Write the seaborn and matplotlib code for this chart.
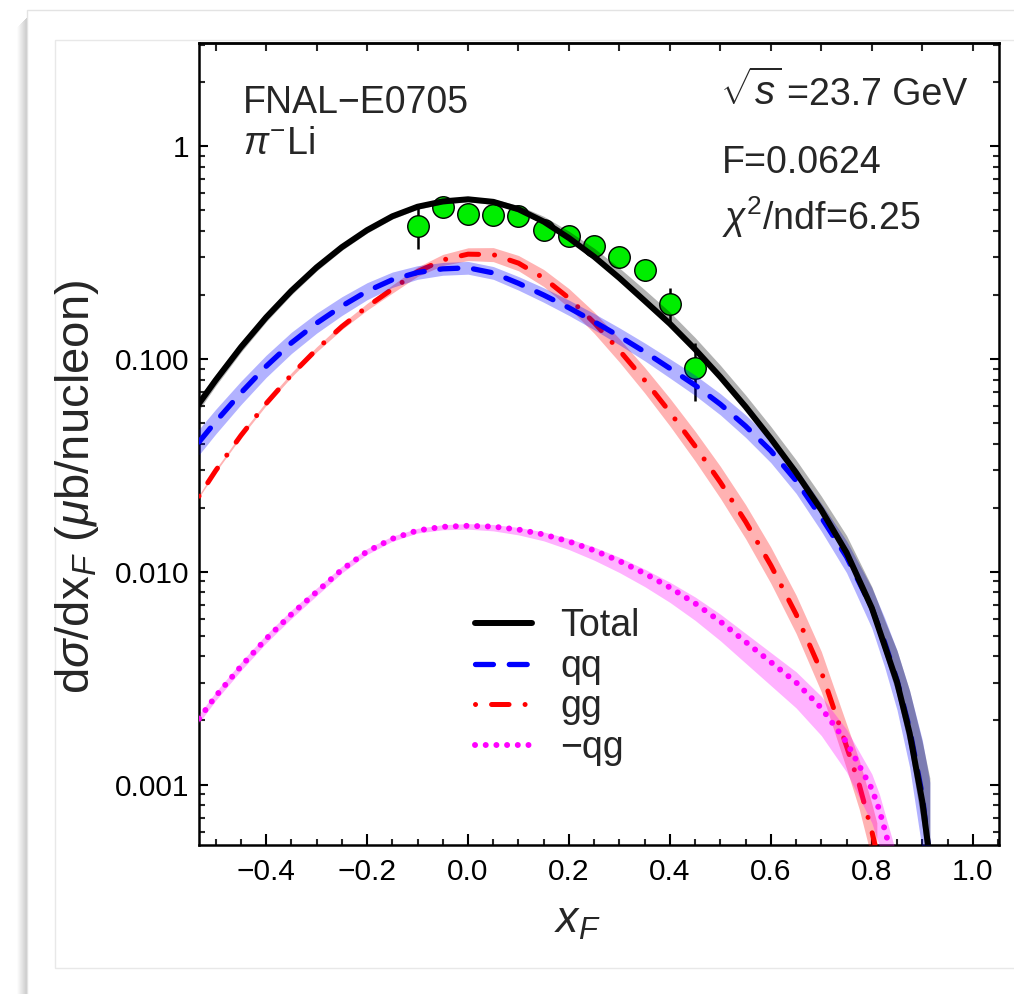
import numpy as np
import matplotlib
matplotlib.use("Agg")
import matplotlib.pyplot as plt
import seaborn as sns
from matplotlib.patches import Rectangle
from matplotlib.ticker import FixedLocator, FixedFormatter, MultipleLocator, LogLocator, NullFormatter

sns.set_theme(style="white")
plt.rcParams["font.family"] = ["Liberation Sans", "DejaVu Sans"]
plt.rcParams["mathtext.fontset"] = "custom"
plt.rcParams["mathtext.rm"] = "Liberation Sans"
plt.rcParams["mathtext.it"] = "Liberation Sans:italic"
plt.rcParams["mathtext.bf"] = "Liberation Sans:bold"
plt.rcParams["mathtext.sf"] = "Liberation Sans"

# ---- measured cross sections (FNAL E705, pi- Li) ----
xf_data = [-0.10, -0.05, 0.00, 0.05, 0.10, 0.15, 0.20, 0.25, 0.30, 0.35, 0.40, 0.45]
sigma_data = [0.422, 0.519, 0.477, 0.475, 0.469, 0.403, 0.377, 0.339, 0.300, 0.263, 0.181, 0.0907]
sigma_err = [0.094, 0.045, 0.040, 0.040, 0.040, 0.035, 0.032, 0.030, 0.028, 0.031, 0.035, 0.0275]

# ---- model curves: total and the qq, gg, -qg channels ----
x_total = [-0.533, -0.50, -0.45, -0.40, -0.35, -0.30, -0.25, -0.20, -0.15, -0.10, -0.05, 0.00,
           0.05, 0.10, 0.15, 0.20, 0.25, 0.30, 0.35, 0.40, 0.45, 0.50, 0.55, 0.60, 0.65, 0.70,
           0.75, 0.80, 0.825, 0.85, 0.875, 0.90, 0.915]
total = [0.0617, 0.0794, 0.1135, 0.1567, 0.2089, 0.2692, 0.3350, 0.4027, 0.4677, 0.5188,
         0.5495, 0.5623, 0.5470, 0.5047, 0.4416, 0.3698, 0.3020, 0.2399, 0.1875, 0.1462,
         0.1109, 0.0822, 0.0596, 0.0422, 0.0292, 0.0195, 0.0123, 0.00676, 0.00452, 0.00302,
         0.00174, 0.000832, 0.000447]
total_up = [0.030, 0.027, 0.024, 0.021, 0.019, 0.017, 0.015, 0.014, 0.013, 0.012, 0.012, 0.012,
            0.014, 0.018, 0.025, 0.032, 0.040, 0.047, 0.052, 0.055, 0.055, 0.055, 0.055, 0.057,
            0.060, 0.065, 0.080, 0.100, 0.120, 0.150, 0.200, 0.280, 0.380]
total_dn = [0.030, 0.027, 0.024, 0.021, 0.019, 0.017, 0.015, 0.014, 0.013, 0.012, 0.012, 0.012,
            0.012, 0.012, 0.012, 0.012, 0.012, 0.012, 0.012, 0.012, 0.012, 0.012, 0.012, 0.012,
            0.015, 0.018, 0.025, 0.035, 0.045, 0.060, 0.080, 0.120, 0.180]

x_qq = x_total
qq = [0.0407, 0.0507, 0.0692, 0.0923, 0.1189, 0.1472, 0.1770, 0.2080, 0.2355, 0.2547,
      0.2649, 0.2679, 0.2535, 0.2265, 0.1995, 0.1738, 0.1496, 0.1276, 0.1079, 0.0902,
      0.0752, 0.0612, 0.0483, 0.0370, 0.0268, 0.0180, 0.01175, 0.00676, 0.00468, 0.00309,
      0.00182, 0.000891, 0.000447]
qq_w = [0.060, 0.058, 0.055, 0.052, 0.050, 0.047, 0.044, 0.040, 0.036, 0.032, 0.030, 0.030,
        0.030, 0.032, 0.034, 0.036, 0.038, 0.040, 0.042, 0.045, 0.048, 0.050, 0.053, 0.056,
        0.060, 0.065, 0.075, 0.095, 0.115, 0.140, 0.180, 0.260, 0.360]

x_gg = [-0.533, -0.50, -0.45, -0.40, -0.35, -0.30, -0.25, -0.20, -0.15, -0.10, -0.05, 0.00,
        0.05, 0.10, 0.15, 0.20, 0.25, 0.30, 0.35, 0.40, 0.45, 0.50, 0.55, 0.60, 0.65, 0.70,
        0.75, 0.775, 0.80, 0.81]
gg = [0.02265, 0.02985, 0.04365, 0.0617, 0.0841, 0.1109, 0.1419, 0.1758, 0.2128, 0.2570,
      0.2917, 0.3105, 0.3090, 0.2818, 0.2399, 0.1928, 0.1479, 0.1096, 0.0794, 0.0562,
      0.0389, 0.0263, 0.01718, 0.01072, 0.00631, 0.00339, 0.00151, 0.00100, 0.000603, 0.000479]
gg_w = [0.006, 0.007, 0.008, 0.009, 0.010, 0.012, 0.014, 0.016, 0.019, 0.022, 0.026, 0.030,
        0.033, 0.036, 0.040, 0.045, 0.050, 0.055, 0.060, 0.065, 0.070, 0.075, 0.080, 0.085,
        0.090, 0.095, 0.105, 0.115, 0.130, 0.140]

x_qg = [-0.533, -0.50, -0.45, -0.40, -0.35, -0.30, -0.25, -0.20, -0.15, -0.10, -0.05, 0.00,
        0.05, 0.10, 0.15, 0.20, 0.25, 0.30, 0.35, 0.40, 0.45, 0.50, 0.55, 0.60, 0.65, 0.70,
        0.75, 0.80, 0.815, 0.83, 0.845]
qg = [0.00204, 0.00260, 0.00359, 0.00484, 0.00631, 0.00804, 0.01023, 0.01245, 0.01429,
      0.01563, 0.01626, 0.01644, 0.01629, 0.01578, 0.01496, 0.01387, 0.01259, 0.01122,
      0.00982, 0.00843, 0.00710, 0.00583, 0.00468, 0.00376, 0.00302, 0.00229, 0.00158,
      0.000955, 0.000759, 0.000562, 0.000417]
qg_up = [0.020, 0.020, 0.020, 0.020, 0.020, 0.018, 0.016, 0.014, 0.012, 0.010, 0.010, 0.010,
         0.010, 0.010, 0.012, 0.014, 0.016, 0.018, 0.020, 0.025, 0.030, 0.035, 0.040, 0.045,
         0.050, 0.055, 0.060, 0.070, 0.075, 0.080, 0.085]
qg_dn = [0.020, 0.020, 0.020, 0.020, 0.020, 0.018, 0.016, 0.014, 0.012, 0.012, 0.014, 0.016,
         0.020, 0.025, 0.030, 0.038, 0.046, 0.054, 0.062, 0.070, 0.080, 0.090, 0.100, 0.110,
         0.120, 0.130, 0.140, 0.160, 0.170, 0.180, 0.190]

# ---- axis ticks ----
xtick_vals = [-0.4, -0.2, 0.0, 0.2, 0.4, 0.6, 0.8, 1.0]
xtick_labels = ["\u22120.4", "\u22120.2", "0.0", "0.2", "0.4", "0.6", "0.8", "1.0"]
ytick_vals = [0.001, 0.01, 0.1, 1.0]
ytick_labels = ["0.001", "0.010", "0.100", "1"]

W, H = 1014, 994
fig = plt.figure(figsize=(W / 100, H / 100), dpi=100)
fig.patch.set_facecolor("white")


def fx(px):
    return px / W


def fy(py):
    return 1 - py / H


# notebook-style panel behind the plot
for i, c in enumerate(np.linspace(0.80, 0.99, 10)):
    fig.add_artist(Rectangle((fx(26 - i), fy(1000)), fx(1), fy(18 + i) - fy(1000),
                             transform=fig.transFigure, facecolor=str(c), edgecolor="none", zorder=-10))
fig.add_artist(Rectangle((fx(27), fy(1010)), fx(1100), fy(10) - fy(1010), transform=fig.transFigure,
                         facecolor="white", edgecolor="#e3e3e3", lw=1.0, zorder=-9))
fig.add_artist(Rectangle((fx(55), fy(968)), fx(1100), fy(40) - fy(968), transform=fig.transFigure,
                         facecolor="white", edgecolor="#e8e8e8", lw=1.0, zorder=-8))

ax = fig.add_axes([fx(199), fy(845), fx(999) - fx(199), fy(43) - fy(845)])
ax.set_facecolor("white")
ax.set_yscale("log")


def band(y, up, dn):
    y = np.asarray(y)
    return y * 10 ** (-np.asarray(dn)), y * 10 ** np.asarray(up)


# data points (curves are drawn over them)
ax.errorbar(xf_data, sigma_data, yerr=sigma_err, fmt="none", ecolor="black", elinewidth=1.8, zorder=2)
sns.scatterplot(x=xf_data, y=sigma_data, ax=ax, s=15.5 ** 2, color="#00ee00", edgecolor="black",
                linewidth=1.0, zorder=3, legend=False)

# gg channel
lo, hi = band(gg, gg_w, gg_w)
ax.fill_between(x_gg, lo, hi, color="red", alpha=0.3, lw=0, zorder=4)
sns.lineplot(x=x_gg, y=gg, ax=ax, color="red", lw=3.6, linestyle=(0, (0.01, 3.2, 3.5, 3.2)),
             dash_capstyle="round", sort=False, estimator=None, zorder=5, label="gg")
# -qg channel
lo, hi = band(qg, qg_up, qg_dn)
ax.fill_between(x_qg, lo, hi, color="magenta", alpha=0.3, lw=0, zorder=6)
sns.lineplot(x=x_qg, y=qg, ax=ax, color="magenta", lw=4.3, linestyle=(0, (0.01, 1.78)),
             dash_capstyle="round", sort=False, estimator=None, zorder=7, label="\u2212qg")
# qq channel
lo, hi = band(qq, qq_w, qq_w)
ax.fill_between(x_qq, lo, hi, color="blue", alpha=0.3, lw=0, zorder=8)
sns.lineplot(x=x_qq, y=qq, ax=ax, color="blue", lw=3.8, linestyle=(0, (3.4, 3.0)),
             dash_capstyle="round", sort=False, estimator=None, zorder=9, label="qq")
# total
lo, hi = band(total, total_up, total_dn)
ax.fill_between(x_total, lo, hi, color="black", alpha=0.3, lw=0, zorder=10)
sns.lineplot(x=x_total, y=total, ax=ax, color="black", lw=4.3, solid_capstyle="round",
             sort=False, estimator=None, zorder=11, label="Total")

ax.set_xlim(-0.533, 1.052)
ax.set_ylim(0.00052, 3.05)

# ticks on all four sides, pointing inwards
ax.xaxis.set_major_locator(FixedLocator(xtick_vals))
ax.xaxis.set_major_formatter(FixedFormatter(xtick_labels))
ax.xaxis.set_minor_locator(MultipleLocator(0.05))
ax.yaxis.set_major_locator(FixedLocator(ytick_vals))
ax.yaxis.set_major_formatter(FixedFormatter(ytick_labels))
ax.yaxis.set_minor_locator(LogLocator(base=10, subs=np.arange(2, 10)))
ax.yaxis.set_minor_formatter(NullFormatter())
ax.tick_params(axis="x", which="major", direction="in", length=8, width=1.5, top=False,
               bottom=True, labelsize=21.5, pad=9, colors="black")
ax.tick_params(axis="x", which="minor", direction="in", length=4.5, width=1.5, top=False, bottom=True)
ax.tick_params(axis="y", which="major", direction="in", length=6.5, width=1.5, left=True,
               right=True, labelsize=21.5, pad=7, colors="black")
ax.tick_params(axis="y", which="minor", direction="in", length=4, width=1.5, left=True, right=True)
top = ax.secondary_xaxis("top")
top.xaxis.set_major_locator(MultipleLocator(0.1))
top.tick_params(axis="x", which="major", direction="in", length=6, width=1.5, labeltop=False)
top.spines["top"].set_linewidth(1.8)
for s in ax.spines.values():
    s.set_linewidth(1.8)
    s.set_color("black")

ax.set_xlabel("$x_F$", fontsize=32)
ax.xaxis.set_label_coords(0.4725, -0.07)
ax.set_ylabel(r"d$\sigma$/dx$_F$ ($\mu$b/nucleon)", fontsize=34)
ax.yaxis.set_label_coords(-0.123, 0.446)

# annotations
ax.text(0.055, 0.913, "FNAL\u2212E0705", transform=ax.transAxes, fontsize=27, va="baseline")
ax.text(0.055, 0.862, r"$\pi^{-}$Li", transform=ax.transAxes, fontsize=27, va="baseline")
ax.text(0.651, 0.923, r"$\sqrt{s}$", transform=ax.transAxes, fontsize=29, va="baseline")
ax.text(0.735, 0.923, "=23.7 GeV", transform=ax.transAxes, fontsize=27, va="baseline")
ax.text(0.654, 0.838, "F=0.0624", transform=ax.transAxes, fontsize=27, va="baseline")
ax.text(0.654, 0.767, r"$\chi^2$/ndf=6.25", transform=ax.transAxes, fontsize=27, va="baseline")

handles, labels = ax.get_legend_handles_labels()
order = ["Total", "qq", "gg", "\u2212qg"]
hmap = dict(zip(labels, handles))
ax.legend([hmap[k] for k in order], order, loc="upper left", bbox_to_anchor=(0.345, 0.295),
          frameon=False, fontsize=27, handlelength=1.52, handletextpad=0.75, labelspacing=0.12,
          borderpad=0, borderaxespad=0)

fig.savefig("out.png", dpi=100, facecolor="white")
